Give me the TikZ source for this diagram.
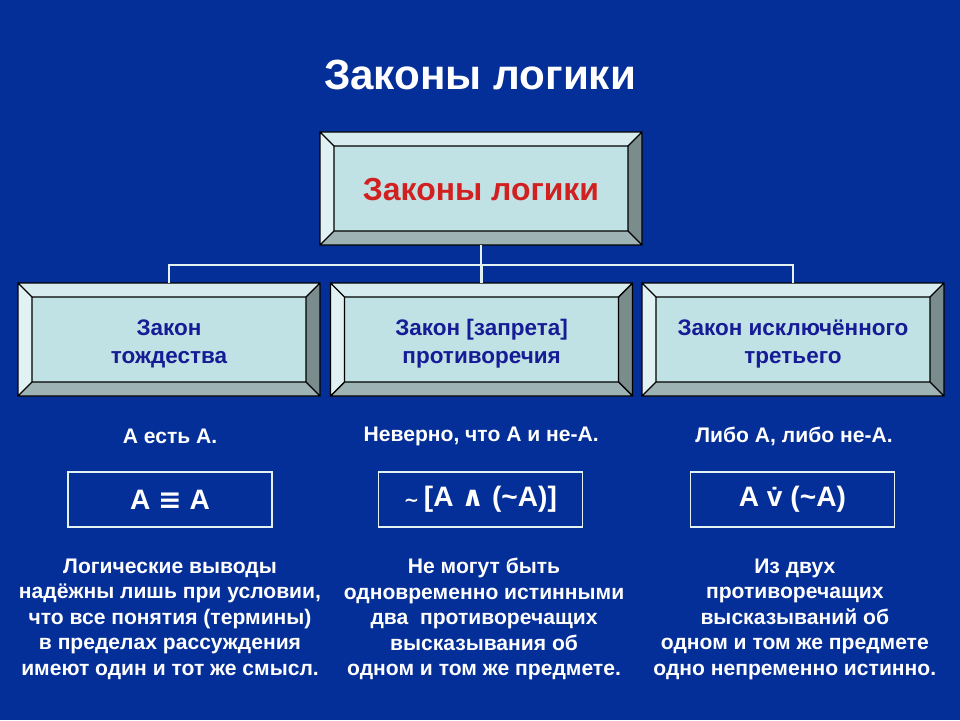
\documentclass[tikz,border=0pt]{standalone}
\usepackage{fontspec}
\setmainfont{Liberation Sans}
\newfontfamily\symfont{DejaVu Sans}
\usetikzlibrary{calc,positioning}
\definecolor{sea}{RGB}{4,46,152}
\definecolor{face}{RGB}{192,226,228}
\definecolor{rimtop}{RGB}{214,236,238}
\definecolor{rimleft}{RGB}{224,242,244}
\definecolor{rimright}{RGB}{122,140,140}
\definecolor{rimbottom}{RGB}{158,180,180}
\definecolor{crimson}{RGB}{210,32,32}
\definecolor{navyink}{RGB}{22,28,150}
\definecolor{wire}{RGB}{226,242,242}
\newcommand\rim{0.35cm}
\newcommand\lift{\rule{0pt}{17.5pt}}
% bevelled frame round a named node
\newcommand\bevel[1]{%
  \coordinate (o1) at (#1.north west); \coordinate (o2) at (#1.north east);
  \coordinate (o3) at (#1.south east); \coordinate (o4) at (#1.south west);
  \coordinate (i1) at ($(o1)+(\rim,-\rim)$); \coordinate (i2) at ($(o2)+(-\rim,-\rim)$);
  \coordinate (i3) at ($(o3)+(-\rim,\rim)$); \coordinate (i4) at ($(o4)+(\rim,\rim)$);
  \fill[rimtop] (o1) -- (o2) -- (i2) -- (i1) -- cycle;
  \fill[rimright] (o2) -- (o3) -- (i3) -- (i2) -- cycle;
  \fill[rimbottom] (o3) -- (o4) -- (i4) -- (i3) -- cycle;
  \fill[rimleft] (o4) -- (o1) -- (i1) -- (i4) -- cycle;
  \draw[black,line width=0.9pt,line join=miter] (o1) rectangle (o3) (i1) rectangle (i3)
    (o1) -- (i1) (o2) -- (i2) (o3) -- (i3) (o4) -- (i4);
}
\tikzset{
  heading/.style={text=white,font=\fontsize{30}{36}\selectfont\bfseries},
  slab/.style={fill=face,inner sep=0pt,outer sep=0pt,minimum height=2.825cm,
    minimum width=7.55cm,align=center,text=navyink,
    font=\fontsize{16}{20}\selectfont\bfseries},
  claim/.style={text=white,font=\fontsize{15}{18}\selectfont\bfseries},
  formula/.style={draw=wire,line width=1.2pt,minimum width=5.1cm,minimum height=1.375cm,
    text=white,font=\fontsize{20}{24}\selectfont\bfseries},
  note/.style={text=white,align=center,font=\fontsize{15}{18.07}\selectfont\bfseries},
  link/.style={draw=wire,line width=2pt},
}

\begin{document}
\begin{tikzpicture}
  \fill[sea] (0,0) rectangle (24,18);
  \useasboundingbox (0,0) rectangle (24,18);

  \node[heading] (title) at (12,16.125) {Законы логики};

  \node[slab,minimum width=8.05cm,text=crimson,font=\fontsize{22.7}{26}\selectfont\bfseries]
    (root) at (12.025,13.2875) {\lift Законы логики};
  \bevel{root}

  \node[slab] (ident) at (4.225,9.5125) {\lift Закон\\тождества};
  \bevel{ident}
  \node[slab] (contra) at (12.04,9.5125) {\lift Закон [запрета]\\противоречия};
  \bevel{contra}
  \node[slab] (excl) at (19.825,9.5125) {\lift Закон исключённого\\третьего};
  \bevel{excl}

  % tree wires
  \coordinate (bus) at (12.025,11.375);
  \draw[link] (root.south) -- (bus);
  \draw[link] (ident.north) |- (bus) -| (excl.north);
  \draw[link] (bus) -| (contra.north);

  \node[claim] (stA) at (4.25,7.08) {А есть А.};
  \node[claim] (stB) at (12.03,7.08) {Неверно, что А и не-А.};
  \node[claim] (stC) at (19.85,7.08) {Либо А, либо не-А.};

  \node[formula] (fA) at (4.25,5.5125) {А {\symfont\bfseries≡} А};
  \node[formula] (fB) at (12.01,5.5125) {{\fontsize{13}{13}\selectfont\symfont\bfseries\char"7E}\,[А {\symfont\bfseries∧} (\char"7E А)]};
  \node[formula] (fC) at (19.81,5.5125) {А v̇ (\char"7E А)};

  \node[note] (dA) at (4.25,2.52) {Логические выводы\\надёжны лишь при условии,\\что все понятия (термины)\\в пределах рассуждения\\имеют один и тот же смысл.};
  \node[note] (dB) at (12.1,2.52) {Не могут быть\\одновременно истинными\\два\ \ противоречащих\\высказывания об\\одном и том же предмете.};
  \node[note] (dC) at (19.87,2.52) {Из двух\\противоречащих\\высказываний об\\одном и том же предмете\\одно непременно истинно.};
\end{tikzpicture}
\end{document}
